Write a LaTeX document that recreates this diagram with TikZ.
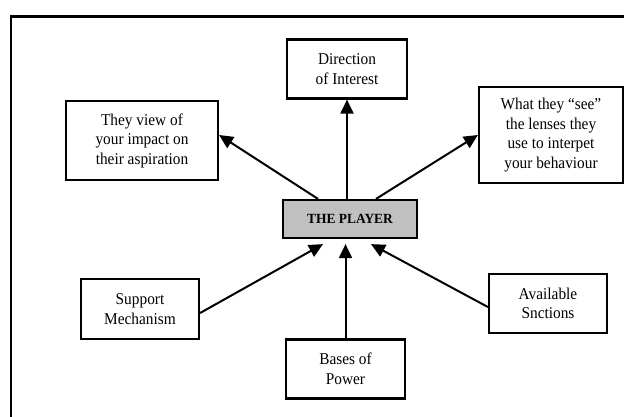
\documentclass[tikz,border=0pt]{standalone}
\usepackage{fontspec}
\setmainfont{Liberation Serif}[FakeStretch=0.93]
\newfontfamily\playerfont{Liberation Serif}[FakeStretch=0.96]
\usetikzlibrary{arrows.meta,calc}
\begin{document}
\begin{tikzpicture}[x=1pt,y=-1pt,
  box/.style={draw=black,line width=2.2pt,fill=white,align=center,inner sep=2pt,
    font=\fontsize{16.5}{19.5}\selectfont},
  playerbox/.style={draw=black,line width=2.2pt,fill=playergray,align=center,
    font=\playerfont\bfseries\fontsize{14}{16}\selectfont},
  link/.style={line width=2pt,-{Triangle[length=14pt,width=13pt]}}]
\definecolor{playergray}{RGB}{192,192,192}
\useasboundingbox (0,0) rectangle (624,417);
\fill[white] (0,0) rectangle (624,417);
\draw[line width=2.6pt] (11,430) -- (11,16.5) -- (640,16.5);

\node[box,minimum width=120pt,minimum height=59pt] (dir) at (347,69) {Direction\\of Interest};
\node[box,minimum width=152pt,minimum height=79pt] (view) at (142,140.5) {They view of\\your impact on\\their aspiration};
\node[box,minimum width=144pt,minimum height=96pt] (see) at (551,135) {What they “see”\\the lenses they\\use to interpet\\your behaviour};
\node[playerbox,minimum width=134pt,minimum height=38pt] (player) at (350,219) {THE PLAYER};
\node[box,minimum width=118pt,minimum height=60pt] (support) at (140,309) {Support\\Mechanism};
\node[box,minimum width=119pt,minimum height=59pt] (bases) at (345.5,369) {Bases of\\Power};
\node[box,minimum width=118pt,minimum height=59pt] (avail) at (548,303.5) {Available\\Snctions};

\draw[link] (player.north -| dir.south) -- (dir.south);
\draw[link] ($(player.north)+(-32,0)$) -- ($(view.east)+(0,-5.5)$);
\draw[link] ($(player.north)+(26,0)$) -- (see.west);
\draw[link] ($(support.east)+(0,4)$) -- ($(player.south)+(-27,5)$);
\draw[link] (bases.north) -- ($(player.south -| bases.north)+(0,5)$);
\draw[link] ($(avail.west)+(0,3.5)$) -- ($(player.south)+(21,5)$);
\end{tikzpicture}
\end{document}
